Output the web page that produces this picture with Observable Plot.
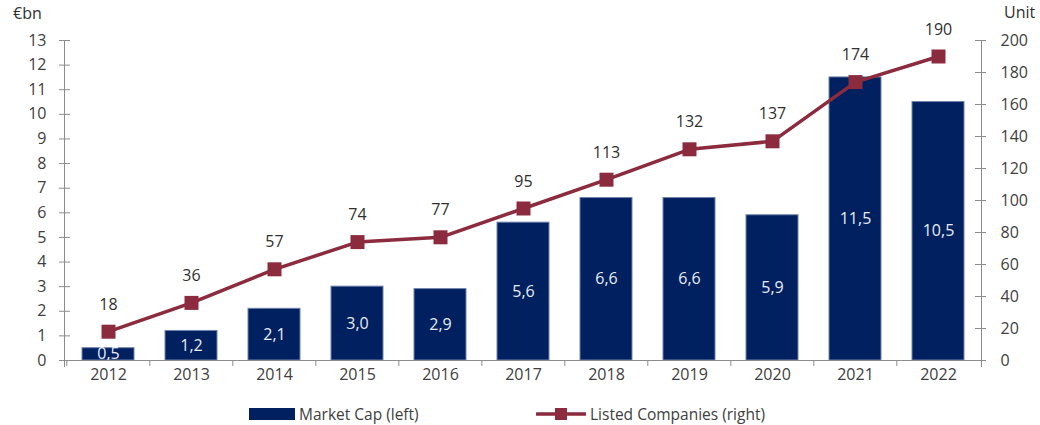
<!DOCTYPE html>
<html><head><meta charset="utf-8">
<script src="https://cdn.jsdelivr.net/npm/d3@7"></script>
<script src="https://cdn.jsdelivr.net/npm/@observablehq/plot@0.6"></script>
<style>
body{margin:0;background:#fff;font-family:"Open Sans",sans-serif;color:#404040;}
#wrap{position:relative;width:1040px;height:425px;overflow:hidden;background:#fff}
#wrap svg{display:block}
.lbl{position:absolute;font-size:16px;line-height:1;color:#303030}
.leg{position:absolute;top:400px;height:27px;display:flex;align-items:center;font-size:15.5px;color:#404040}
.leg svg{margin-right:4px}
</style></head><body>
<div id="wrap">
  <div class="lbl" style="left:13px;top:5px">€bn</div>
  <div class="lbl" style="left:1004px;top:4px">Unit</div>
  <div id="chart"></div>
  <div class="leg" style="left:249px"><svg width="46" height="12"><rect x="0" y="0" width="46" height="12" fill="#002060"/></svg>Market Cap (left)</div>
  <div class="leg" style="left:536px"><svg width="50" height="14"><line x1="1" y1="7" x2="49" y2="7" stroke="#8C2A3E" stroke-width="3.5" stroke-linecap="round"/><rect x="19" y="1" width="12" height="12" fill="#8C2A3E"/></svg>Listed Companies (right)</div>
</div>
<script>
const years = ["2012","2013","2014","2015","2016","2017","2018","2019","2020","2021","2022"];
const marketCap = [0.5,1.2,2.1,3.0,2.9,5.6,6.6,6.6,5.9,11.5,10.5];
const listedCompanies = [18,36,57,74,77,95,113,132,137,174,190];
const leftTicks = [0,1,2,3,4,5,6,7,8,9,10,11,12,13];
const rightTicks = [0,20,40,60,80,100,120,140,160,180,200];

const leftMax = 13, rightMax = 200, k = leftMax / rightMax;
const data = years.map((y, i) => ({year: y, cap: marketCap[i], n: listedCompanies[i], ns: listedCompanies[i] * k}));
const fmtCap = d => d3.format(".1f")(d).replace(".", ",");

const W = 1040, H = 395, mL = 64, mR = 59, mT = 40, mB = 35;
const pw = W - mL - mR, ph = H - mT - mB, step = pw / years.length;
const axisColor = "#8c8c8c";
const barColor = "#002060", lineColor = "#8C2A3E";

const chart = Plot.plot({
  width: W, height: H, marginLeft: mL, marginRight: mR, marginTop: mT, marginBottom: mB,
  style: {fontFamily: "Open Sans, sans-serif", fontSize: "16px", color: "#404040", background: "white"},
  x: {domain: years, paddingInner: 0.375, paddingOuter: 0.1875, axis: null, label: null},
  y: {domain: [0, leftMax], axis: null, label: null},
  marks: [
    Plot.barY(data, {x: "year", y: "cap", fill: barColor, stroke: "#7083aa", strokeWidth: 1}),
    Plot.text(data, {x: "year", y: d => d.cap / 2, text: d => fmtCap(d.cap), fill: "#e8ecf4", fontSize: 16}),
    Plot.frame({anchor: "left", insetBottom: -6, stroke: axisColor}),
    Plot.frame({anchor: "right", insetBottom: -6, stroke: axisColor}),
    Plot.frame({anchor: "bottom", stroke: axisColor}),
    Plot.tickY(leftTicks, {y: d => d, insetLeft: -5, insetRight: pw - 6, stroke: axisColor}),
    Plot.tickY(rightTicks.map(t => t * k), {y: d => d, insetLeft: pw - 6, insetRight: -5, stroke: axisColor}),
    Plot.tickX(years, {x: d => d, dx: -step / 2, insetTop: ph, insetBottom: -6, stroke: axisColor}),
    Plot.axisY(leftTicks, {anchor: "left", tickSize: 0, tickPadding: 18, fontSize: 16, fill: "#404040", label: null}),
    Plot.axisY(rightTicks.map(t => t * k), {anchor: "right", tickSize: 0, tickPadding: 19, fontSize: 16, fill: "#404040", label: null, tickFormat: d => Math.round(d / k)}),
    Plot.axisX(years, {anchor: "bottom", tickSize: 0, tickPadding: 8, fontSize: 16, fill: "#404040", label: null}),
    Plot.lineY(data, {x: "year", y: "ns", stroke: lineColor, strokeWidth: 3.5}),
    Plot.dot(data, {x: "year", y: "ns", symbol: "square", r: 7.9, fill: lineColor, stroke: "none"}),
    Plot.text(data, {x: "year", y: "ns", text: "n", dy: -27, fill: "#303030", fontSize: 16})
  ]
});
document.getElementById("chart").appendChild(chart);
</script>
</body></html>
